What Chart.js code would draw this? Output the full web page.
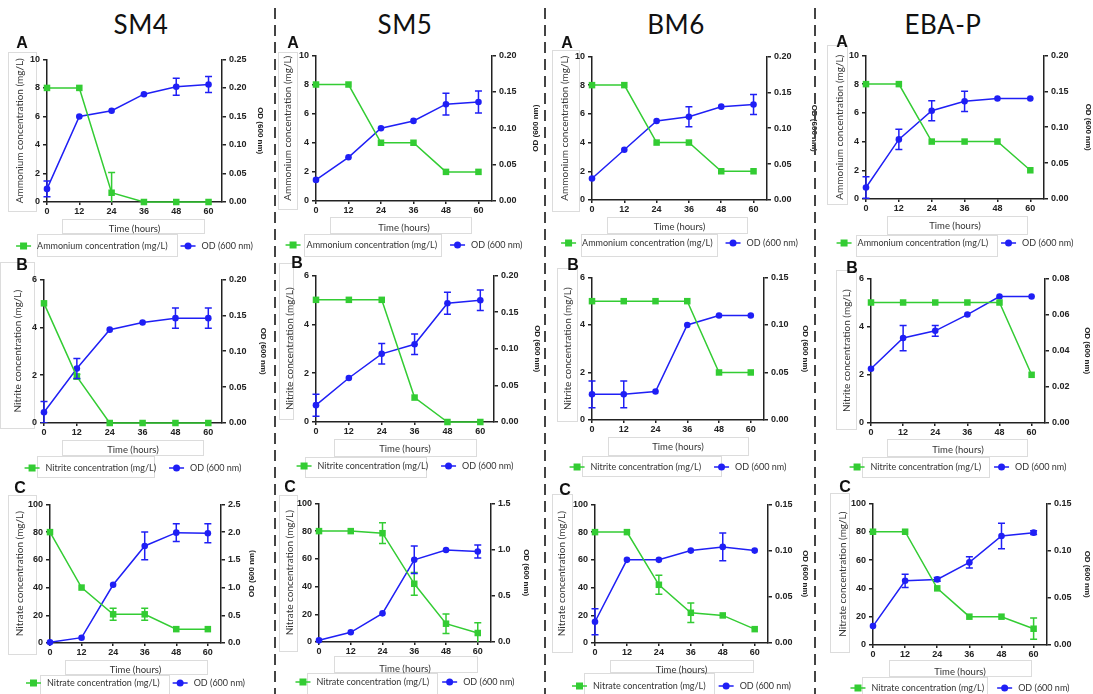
<!DOCTYPE html>
<html>
<head>
<meta charset="utf-8">
<script src="https://cdn.jsdelivr.net/npm/chart.js@4.4.1/dist/chart.umd.min.js"></script>
<style>
html, body { margin: 0; padding: 0; background: #fff; overflow: hidden; }
body { position: relative; width: 1093px; height: 694px; font-family: Lato, sans-serif; }
canvas { position: absolute; }
.col { position: absolute; top: 11px; font-size: 26px; letter-spacing: 0.5px; color: #111; transform: translateX(-50%); line-height: 1; }
.tag { position: absolute; font: bold 16px "Liberation Sans", Arial, sans-serif; color: #111; transform: translate(-50%, -50%); }
.sep { position: absolute; top: 8px; height: 690px; width: 2px;
  background: repeating-linear-gradient(to bottom, #444 0 11px, transparent 11px 17px); }
.frame { position: absolute; box-sizing: border-box; border: 1px solid #dcdcdc; }
</style>
</head>
<body>
<script>
// time axis
const hours = [0, 12, 24, 36, 48, 60];
const columnTitles = ['SM4', 'SM5', 'BM6', 'EBA-P'];
const rowLetters = ['A', 'B', 'C'];

// tick labels
const ammoniumTicks = [0, 2, 4, 6, 8, 10];
const nitriteTicks = [0, 2, 4, 6];
const nitrateTicks = [0, 20, 40, 60, 80, 100];
const odTicks025 = [0, 0.05, 0.10, 0.15, 0.20, 0.25];
const odTicks020 = [0, 0.05, 0.10, 0.15, 0.20];
const odTicks015 = [0, 0.05, 0.10, 0.15];
const odTicks008 = [0, 0.02, 0.04, 0.06, 0.08];
const odTicks25 = [0, 0.5, 1.0, 1.5, 2.0, 2.5];
const odTicks15 = [0, 0.5, 1.0, 1.5];

// SM4
const sm4Ammonium = [8, 8, 0.65, 0, 0, 0];
const sm4AmmoniumSd = [0, 0, 1.42, 0, 0, 0];
const sm4OdA = [0.023, 0.150, 0.160, 0.189, 0.202, 0.206];
const sm4OdASd = [0.014, 0, 0, 0, 0.015, 0.014];
const sm4Nitrite = [5, 1.94, 0, 0, 0, 0];
const sm4NitriteSd = [0, 0.1, 0, 0, 0, 0];
const sm4OdB = [0.015, 0.076, 0.130, 0.140, 0.146, 0.146];
const sm4OdBSd = [0.015, 0.014, 0, 0, 0.014, 0.014];
const sm4Nitrate = [80, 40, 20.7, 20.7, 10, 10];
const sm4NitrateSd = [0, 0, 4.3, 4.3, 0, 0];
const sm4OdC = [0.012, 0.096, 1.05, 1.75, 1.99, 1.98];
const sm4OdCSd = [0, 0, 0, 0.25, 0.16, 0.17];

// SM5
const sm5Ammonium = [8, 8, 4, 4, 2, 2];
const sm5AmmoniumSd = [0, 0, 0, 0, 0, 0];
const sm5OdA = [0.029, 0.060, 0.100, 0.110, 0.133, 0.136];
const sm5OdASd = [0, 0, 0, 0, 0.015, 0.015];
const sm5Nitrite = [5, 5, 5, 1, 0, 0];
const sm5NitriteSd = [0, 0, 0, 0, 0, 0];
const sm5OdB = [0.023, 0.060, 0.093, 0.106, 0.162, 0.166];
const sm5OdBSd = [0.015, 0, 0.014, 0.014, 0.015, 0.014];
const sm5Nitrate = [80, 80, 78.5, 42, 13.2, 6.5];
const sm5NitrateSd = [0, 0, 7.5, 8.2, 7, 7.4];
const sm5OdC = [0.018, 0.105, 0.31, 0.89, 0.995, 0.98];
const sm5OdCSd = [0, 0, 0, 0.15, 0, 0.07];

// BM6
const bm6Ammonium = [8, 8, 4, 4, 2, 2];
const bm6AmmoniumSd = [0, 0, 0, 0, 0, 0];
const bm6OdA = [0.030, 0.070, 0.110, 0.116, 0.130, 0.133];
const bm6OdASd = [0, 0, 0, 0.014, 0, 0.014];
const bm6Nitrite = [5, 5, 5, 5, 2, 2];
const bm6NitriteSd = [0, 0, 0, 0, 0, 0];
const bm6OdB = [0.027, 0.027, 0.030, 0.100, 0.110, 0.110];
const bm6OdBSd = [0.014, 0.014, 0, 0, 0, 0];
const bm6Nitrate = [80, 80, 42, 21.8, 19.9, 10];
const bm6NitrateSd = [0, 0, 6.8, 7, 0, 0];
const bm6OdC = [0.023, 0.090, 0.090, 0.100, 0.104, 0.100];
const bm6OdCSd = [0.014, 0, 0, 0, 0.015, 0];

// EBA-P
const ebaAmmonium = [8, 8, 4, 4, 4, 2];
const ebaAmmoniumSd = [0, 0, 0, 0, 0, 0];
const ebaOdA = [0.016, 0.083, 0.123, 0.136, 0.140, 0.140];
const ebaOdASd = [0.015, 0.014, 0.014, 0.014, 0, 0];
const ebaNitrite = [5, 5, 5, 5, 5, 2];
const ebaNitriteSd = [0, 0, 0, 0, 0, 0];
const ebaOdB = [0.030, 0.047, 0.051, 0.060, 0.070, 0.070];
const ebaOdBSd = [0, 0.007, 0.003, 0, 0, 0];
const ebaNitrate = [80, 80, 40, 20, 20, 11.5];
const ebaNitrateSd = [0, 0, 0, 0, 0, 7.5];
const ebaOdC = [0.020, 0.068, 0.0695, 0.0875, 0.1155, 0.119];
const ebaOdCSd = [0, 0.007, 0.002, 0.006, 0.0135, 0.002];

const GREEN = '#33cc33';
const BLUE = '#1f1ff5';
const INK = '#222';

// error bars, drawn through the chart's scales
const errorBars = {
  id: 'errorBars',
  afterDatasetsDraw(chart) {
    const ctx = chart.ctx, a = chart.chartArea;
    ctx.save();
    ctx.beginPath();
    ctx.rect(a.left - 10, a.top - 40, a.right - a.left + 20, a.bottom - a.top + 40);
    ctx.clip();
    chart.data.datasets.forEach(ds => {
      const xs = chart.scales.x, ys = chart.scales[ds.yAxisID];
      ctx.strokeStyle = ds.borderColor;
      ctx.lineWidth = 1.5;
      ds.data.forEach((pt, j) => {
        const e = ds.errors[j];
        if (!e) return;
        const x = xs.getPixelForValue(pt.x);
        const yt = ys.getPixelForValue(pt.y + e), yb = ys.getPixelForValue(pt.y - e);
        ctx.beginPath();
        ctx.moveTo(x, yt); ctx.lineTo(x, yb);
        ctx.moveTo(x - 3.5, yt); ctx.lineTo(x + 3.5, yt);
        ctx.moveTo(x - 3.5, yb); ctx.lineTo(x + 3.5, yb);
        ctx.stroke();
      });
    });
    ctx.restore();
  }
};

// legend with a line and marker, centred under the plot
const lineLegend = {
  id: 'lineLegend',
  afterDraw(chart, args, opts) {
    const ctx = chart.ctx, a = chart.chartArea;
    const y = a.bottom + opts.offset;
    ctx.save();
    ctx.font = '9px Lato';
    ctx.textBaseline = 'middle';
    const seg = 15, gap = 6, space = 13;
    const items = chart.data.datasets.map(ds => ({ ds, w: ctx.measureText(ds.label).width }));
    const total = items.reduce((s, it) => s + seg + gap + it.w, 0) + space * (items.length - 1);
    let x = (a.left + a.right) / 2 - total / 2;
    items.forEach(it => {
      const ds = it.ds;
      ctx.strokeStyle = ds.borderColor; ctx.fillStyle = ds.backgroundColor; ctx.lineWidth = 1.5;
      ctx.beginPath(); ctx.moveTo(x, y); ctx.lineTo(x + seg, y); ctx.stroke();
      const cx = x + seg / 2;
      ctx.beginPath();
      if (ds.pointStyle === 'rect') ctx.rect(cx - 3.5, y - 3.5, 7, 7);
      else ctx.arc(cx, y, 3.5, 0, Math.PI * 2);
      ctx.fill();
      ctx.fillStyle = '#333';
      ctx.fillText(ds.label, x + seg + gap, y);
      x += seg + gap + it.w + space;
    });
    if (opts.flip) {
      ctx.font = 'bold 8px "Liberation Sans"';
      ctx.fillStyle = INK;
      ctx.textAlign = 'center';
      ctx.translate(chart.width - 10, (a.top + a.bottom) / 2);
      ctx.rotate(-Math.PI / 2);
      ctx.fillText('OD (600 nm)', 0, 0);
    }
    ctx.restore();
  }
};

function series(xs, ys) { return xs.map((x, i) => ({ x, y: ys[i] })); }

function addFrame([x1, y1, x2, y2]) {
  const d = document.createElement('div');
  d.className = 'frame';
  d.style.left = x1 + 'px'; d.style.top = y1 + 'px';
  d.style.width = (x2 - x1) + 'px'; d.style.height = (y2 - y1) + 'px';
  document.body.appendChild(d);
}

function makePanel(p) {
  const [lx, x0, x1, rx, top, bottom, leg] = p.box;
  const left = lx - 10, right = rx + 10;
  const cTop = top - 8;
  const height = bottom + leg + 9 - cTop;
  const cv = document.createElement('canvas');
  cv.width = right - left; cv.height = height;
  cv.style.left = left + 'px'; cv.style.top = cTop + 'px';
  document.body.appendChild(cv);

  const tickFont = { family: 'Liberation Sans', size: 9, weight: 'bold' };
  const axisBase = {
    border: { display: true, color: INK, width: 1.5 },
    grid: { drawOnChartArea: false, color: INK, lineWidth: 1.5, tickLength: 4 },
  };

  new Chart(cv, {
    type: 'line',
    data: {
      datasets: [
        { label: p.concLabel, data: series(hours, p.conc), errors: p.concSd, yAxisID: 'y',
          borderColor: GREEN, backgroundColor: GREEN, borderWidth: 1.5, pointStyle: 'rect',
          pointRadius: 4.6, pointBorderWidth: 0, clip: false },
        { label: 'OD (600 nm)', data: series(hours, p.od), errors: p.odSd, yAxisID: 'y1',
          borderColor: BLUE, backgroundColor: BLUE, borderWidth: 1.5, pointStyle: 'circle',
          pointRadius: 3.3, pointBorderWidth: 0, clip: false }
      ]
    },
    options: {
      responsive: false, animation: false, devicePixelRatio: 1,
      layout: { padding: { top: 8, bottom: leg - 24, left: 0, right: 0 } },
      plugins: { legend: { display: false }, tooltip: { enabled: false },
                 lineLegend: { offset: leg, flip: !!p.flip } },
      scales: {
        x: Object.assign({}, axisBase, {
          type: 'linear', min: 0, max: 65,
          grid: { drawOnChartArea: false, color: INK, lineWidth: 1.5, tickLength: 3 },
          afterBuildTicks: s => { s.ticks = hours.map(v => ({ value: v })); },
          afterFit: s => { s.height = 33; },
          ticks: { font: tickFont, color: INK, padding: 1, maxRotation: 0 },
          title: { display: true, text: 'Time (hours)', color: '#333',
                   font: { family: 'Lato', size: 9.5 }, padding: { top: 0, bottom: 0 } }
        }),
        y: Object.assign({}, axisBase, {
          position: 'left', min: 0, max: p.concTicks[p.concTicks.length - 1],
          afterBuildTicks: s => { s.ticks = p.concTicks.map(v => ({ value: v })); },
          afterFit: s => { s.width = x0 - left; },
          ticks: { font: tickFont, color: INK, padding: 3, callback: v => String(v) },
          title: { display: true, text: p.concLabel, color: '#333',
                   font: { family: 'Lato', size: 10 }, padding: { top: 4, bottom: 0 } }
        }),
        y1: Object.assign({}, axisBase, {
          position: 'right', min: 0, max: p.odTicks[p.odTicks.length - 1],
          afterBuildTicks: s => { s.ticks = p.odTicks.map(v => ({ value: v })); },
          afterFit: s => { s.width = right - x1; },
          ticks: { font: tickFont, color: INK, padding: 3, callback: v => v.toFixed(p.odDec) },
          title: { display: !p.flip, text: 'OD (600 nm)', color: INK,
                   font: { family: 'Liberation Sans', size: 8, weight: 'bold' }, padding: { top: 5.2, bottom: 0 } }
        })
      }
    },
    plugins: [errorBars, lineLegend]
  });
}

const ammLabel = 'Ammonium concentration (mg/L)';
const nitLabel = 'Nitrite concentration (mg/L)';
const natLabel = 'Nitrate concentration (mg/L)';

const panels = [
  // row A: box = [left title, left axis, right axis, right title, top, bottom, legend offset]
  { box: [20, 47, 222, 260, 59, 202, 44], concLabel: ammLabel, conc: sm4Ammonium, concSd: sm4AmmoniumSd, concTicks: ammoniumTicks, od: sm4OdA, odSd: sm4OdASd, odTicks: odTicks025, odDec: 2,
    frames: [[8, 52, 37, 212], [62, 219, 205, 234], [37, 234, 178, 257]] },
  { box: [288, 316, 492, 536, 55, 201, 44], concLabel: ammLabel, conc: sm5Ammonium, concSd: sm5AmmoniumSd, concTicks: ammoniumTicks, od: sm5OdA, odSd: sm5OdASd, odTicks: odTicks020, odDec: 2, flip: true,
    frames: [[278, 52, 298, 210], [330, 217, 472, 234], [304, 234, 442, 257]] },
  { box: [565, 592, 767, 814, 56, 200, 43], concLabel: ammLabel, conc: bm6Ammonium, concSd: bm6AmmoniumSd, concTicks: ammoniumTicks, od: bm6OdA, odSd: bm6OdASd, odTicks: odTicks020, odDec: 2,
    frames: [[552, 50, 580, 212], [607, 217, 748, 234], [581, 234, 718, 257]] },
  { box: [840, 866, 1044, 1088, 55, 199, 44], concLabel: ammLabel, conc: ebaAmmonium, concSd: ebaAmmoniumSd, concTicks: ammoniumTicks, od: ebaOdA, odSd: ebaOdASd, odTicks: odTicks020, odDec: 2,
    frames: [[827, 45, 848, 205], [887, 216, 1028, 235], [856, 235, 998, 257]] },
  // row B
  { box: [18, 44, 222, 263, 279, 423, 45], concLabel: nitLabel, conc: sm4Nitrite, concSd: sm4NitriteSd, concTicks: nitriteTicks, od: sm4OdB, odSd: sm4OdBSd, odTicks: odTicks020, odDec: 2,
    frames: [[0, 262, 35, 429], [62, 440, 204, 456], [37, 456, 155, 478]] },
  { box: [290, 316, 494, 537, 275, 422, 44], concLabel: nitLabel, conc: sm5Nitrite, concSd: sm5NitriteSd, concTicks: nitriteTicks, od: sm5OdB, odSd: sm5OdBSd, odTicks: odTicks020, odDec: 2,
    frames: [[279, 263, 294, 420], [334, 439, 477, 457], [305, 457, 427, 478]] },
  { box: [568, 592, 764, 805, 277, 420, 47], concLabel: nitLabel, conc: bm6Nitrite, concSd: bm6NitriteSd, concTicks: nitriteTicks, od: bm6OdB, odSd: bm6OdBSd, odTicks: odTicks015, odDec: 2,
    frames: [[557, 268, 578, 422], [608, 437, 749, 456], [582, 456, 722, 477]] },
  { box: [847, 871, 1045, 1087, 278, 423, 44], concLabel: nitLabel, conc: ebaNitrite, concSd: ebaNitriteSd, concTicks: nitriteTicks, od: ebaOdB, odSd: ebaOdBSd, odTicks: odTicks008, odDec: 2,
    frames: [[836, 270, 857, 430], [887, 439, 1028, 457], [862, 457, 990, 478]] },
  // row C
  { box: [20, 50, 221, 252, 504, 643, 40], concLabel: natLabel, conc: sm4Nitrate, concSd: sm4NitrateSd, concTicks: nitrateTicks, od: sm4OdC, odSd: sm4OdCSd, odTicks: odTicks25, odDec: 1, flip: true,
    frames: [[8, 495, 37, 655], [65, 660, 208, 675], [40, 675, 170, 700]] },
  { box: [290, 319, 491, 526, 503, 642, 40], concLabel: natLabel, conc: sm5Nitrate, concSd: sm5NitrateSd, concTicks: nitrateTicks, od: sm5OdC, odSd: sm5OdCSd, odTicks: odTicks15, odDec: 1,
    frames: [[279, 495, 298, 652], [334, 656, 478, 673], [307, 673, 438, 700]] },
  { box: [562, 595, 768, 805, 504, 643, 43], concLabel: natLabel, conc: bm6Nitrate, concSd: bm6NitrateSd, concTicks: nitrateTicks, od: bm6OdC, odSd: bm6OdCSd, odTicks: odTicks015, odDec: 2,
    frames: [[552, 494, 573, 653], [610, 660, 754, 673], [584, 673, 715, 700]] },
  { box: [843, 873, 1047, 1087, 503, 645, 43], concLabel: natLabel, conc: ebaNitrate, concSd: ebaNitrateSd, concTicks: nitrateTicks, od: ebaOdC, odSd: ebaOdCSd, odTicks: odTicks015, odDec: 2,
    frames: [[830, 493, 850, 653], [889, 660, 1032, 677], [862, 677, 988, 700]] }
];

// faint label boxes sit underneath the charts
panels.forEach(p => p.frames.forEach(addFrame));
panels.forEach(makePanel);

// column headings, separators and panel letters
const titleX = [141, 405, 676, 943];
columnTitles.forEach((t, i) => {
  const d = document.createElement('div');
  d.className = 'col'; d.textContent = t; d.style.left = titleX[i] + 'px';
  document.body.appendChild(d);
});
[275, 545, 815].forEach(x => {
  const d = document.createElement('div');
  d.className = 'sep'; d.style.left = (x - 1) + 'px';
  document.body.appendChild(d);
});
const letterPos = [
  [[22, 43], [293, 43], [567, 43], [842, 42]],
  [[22, 265], [297, 263], [573, 265], [852, 268]],
  [[20, 488], [290, 487], [565, 490], [845, 487]]
];
rowLetters.forEach((l, r) => {
  letterPos[r].forEach(([x, y]) => {
    const d = document.createElement('div');
    d.className = 'tag'; d.textContent = l; d.style.left = x + 'px'; d.style.top = y + 'px';
    document.body.appendChild(d);
  });
});
</script>
</body>
</html>
